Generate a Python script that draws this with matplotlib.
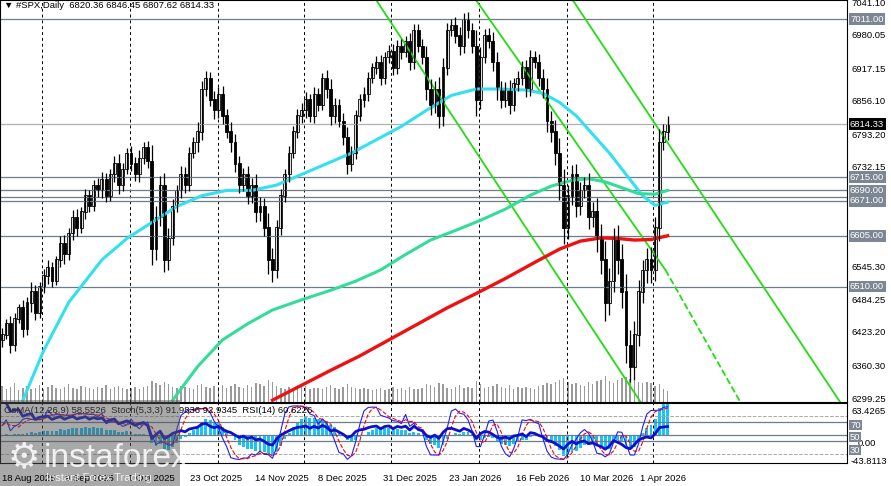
import numpy as np
import pandas as pd
import matplotlib
matplotlib.use("Agg")
import matplotlib.pyplot as plt
plt.rcParams['font.family'] = ['Liberation Sans', 'DejaVu Sans']

closes = [6420,6440,6400,6450,6470,6430,6480,6500,6460,6510,6530,6545,
          6520,6560,6590,6570,6610,6640,6620,6650,6680,6660,6700,6690,
          6710,6680,6720,6740,6700,6730,6760,6740,6720,6750,6770,6745,
          6580,6640,6700,6560,6600,6660,6690,6720,6700,6760,6780,6800,
          6880,6900,6860,6840,6870,6830,6800,6780,6740,6700,6720,6680,
          6700,6650,6660,6620,6560,6540,6620,6680,6720,6760,6800,6830,
          6840,6860,6830,6870,6850,6900,6880,6830,6850,6820,6790,6740,
          6760,6830,6860,6870,6900,6920,6930,6900,6940,6950,6920,6960,
          6950,6970,6930,6990,6960,6940,6880,6850,6880,6830,6920,6990,
          7000,6980,6960,7010,6990,6960,6860,6940,6980,6970,6930,6880,
          6860,6880,6850,6890,6900,6920,6880,6940,6930,6900,6880,6820,
          6800,6760,6700,6620,6680,6720,6660,6690,6700,6640,6650,6600,
          6560,6480,6520,6600,6560,6500,6400,6360,6420,6500,6540,6560,
          6540,6620,6780,6800,6814.33]
wicks = [25,18,30,22,15,28,20,35,26,18,24,30,22,16,28,34,20,25,31,19,27,22,18,26,
         30,24,20,28,35,22,18,26,24,30,21,27,60,40,33,45,38,26,22,30,28,24,20,35,
         30,26,22,34,28,30,25,36,32,28,24,30,26,40,35,30,55,45,30,26,22,28,20,24,
         26,30,22,28,24,20,32,36,26,24,30,38,28,22,20,26,24,18,22,26,20,24,28,22,
         26,20,30,24,22,28,40,36,30,45,38,26,22,28,34,24,30,26,60,36,24,28,32,40,
         30,26,34,22,28,24,30,26,22,30,34,40,38,45,55,60,42,36,40,32,30,44,38,50,
         55,70,48,40,52,60,66,58,50,44,40,46,48,40,50,30,32]
volumes = [30,25,28,35,22,26,30,24,27,32,25,29,31,26,24,28,33,27,25,30,28,26,24,29,
           27,31,25,28,30,26,24,27,29,25,28,30,40,35,32,38,34,29,27,30,28,26,25,31,
           33,29,27,30,28,32,26,30,34,29,27,31,28,35,33,30,42,38,30,27,25,29,24,26,
           28,30,25,27,26,24,29,31,27,25,28,33,29,26,24,27,25,22,24,26,23,25,28,24,
           26,23,28,25,24,27,34,32,29,36,33,27,25,28,31,26,29,27,40,33,26,28,30,34,
           29,27,31,25,28,26,29,27,25,30,32,35,34,38,42,45,37,33,35,31,30,38,34,40,
           42,48,40,36,41,45,47,44,40,37,35,38,36,30,34,24,20]

cyan_x = [5,10,16,24,30,36,42,48,54,60,66,72,78,84,90,96,102,108,114,120,126,130,134,138,142,146,150,154,157,160]
cyan_y = [6297,6390,6480,6560,6600,6630,6660,6680,6690,6690,6700,6720,6740,6760,6785,6810,6840,6868,6880,6880,6878,6872,6855,6830,6795,6760,6720,6680,6662,6668]
green_x = [41,47,53,59,65,72,79,85,91,97,103,109,115,121,127,132,137,141,145,149,153,157,160]
green_y = [6297,6360,6410,6440,6466,6485,6503,6520,6541,6570,6597,6615,6634,6655,6681,6698,6709,6712,6706,6695,6684,6683,6690]
red_x = [65,72,79,86,93,100,107,114,121,128,134,139,144,148,152,156,160]
red_y = [6297,6325,6353,6380,6410,6440,6470,6497,6525,6555,6580,6595,6601,6600,6597,6598,6605]

levels = [7011.00, 6715.00, 6690.00, 6678.00, 6671.00, 6605.00, 6510.00]
level_labels = ["7011.00", "6715.00", "6690.00", "", "6671.00", "6605.00", "6510.00"]
price_ticks = [7041.10, 6980.05, 6917.15, 6856.10, 6793.20, 6732.15, 6545.30, 6484.25, 6423.20, 6360.30, 6299.25]
date_labels = ["18 Aug 2025","9 Sep 2025","1 Oct 2025","23 Oct 2025","14 Nov 2025","8 Dec 2025",
               "31 Dec 2025","23 Jan 2026","16 Feb 2026","10 Mar 2026","1 Apr 2026"]
date_px = [2, 65, 128, 190, 255, 318, 383, 449, 516, 580, 640]

PX = 4.17
c = np.array(closes, float)
n = len(c)
o = np.r_[c[0] - 10, c[:-1]]
w = np.array(wicks, float)
hi = np.maximum(o, c) + w * 0.5
lo = np.minimum(o, c) - w * 0.5
x = np.arange(n)

W, H = 891, 486
fig = plt.figure(figsize=(W/100, H/100), dpi=100)
fig.patch.set_facecolor("white")
xr = 847 / PX
ax = fig.add_axes([0, 1-402/H, 847/W, 402/H])
ax2 = fig.add_axes([0, 1-463/H, 847/W, 60/H])
ymin, ymax = 6299.25 - 3*1.873, 7041.10 + 3*1.873
for a in (ax, ax2):
    a.set_xlim(-0.5, xr)
    a.set_xticks([]); a.set_yticks([])
    for s in a.spines.values():
        s.set_color("black"); s.set_linewidth(0.8)
ax.set_ylim(ymin, ymax)

gridx = [40,128,216,303,390,478,566,653]
for g in gridx:
    ax.axvline(g/PX, color="black", ls=(0,(3,3)), lw=0.7)
    ax2.axvline(g/PX, color="black", ls=(0,(3,3)), lw=0.7)

ax.bar(x, np.array(volumes)*1.0, bottom=ymin, width=0.35, color="#9a9a9a")

for lv in levels:
    ax.axhline(lv, color="#6e7b8b", lw=0.9)
ax.axhline(6814.33, color="#b0b0b0", lw=0.9)

def p2d(px, py):
    return px/PX, 7041.10 - (py-3)*1.873
for (x0,y0,x1,y1,ls) in [(375,0,640,402,"-"),(475,0,665,270,"-"),(665,270,740,402,"--"),(572,0,840,402,"-")]:
    a0 = p2d(x0,y0); a1 = p2d(x1,y1)
    ax.plot([a0[0],a1[0]],[a0[1],a1[1]], color="#22dd11", lw=1.3, ls=ls)

ax.plot(cyan_x, cyan_y, color="#33e0ee", lw=2.2)
ax.plot(green_x, green_y, color="#33dd99", lw=2.2)
ax.plot(red_x, red_y, color="#ee1111", lw=2.4)

ax.vlines(x, lo, hi, color="black", lw=0.9)
up = c >= o
ax.bar(x, np.abs(c-o)+0.8, bottom=np.minimum(o,c), width=0.7,
       color=np.where(up, "white", "black"), edgecolor="black", linewidth=0.6)

FS = 6.8
for t in price_ticks:
    fig.text(851/W, 1-(3+(7041.10-t)/1.873)/H, f"{t:.2f}", fontsize=FS, va="center", ha="left")
def ypx(v): return 3+(7041.10-v)/1.873
for lv, lab in zip(levels, level_labels):
    if lab:
        fig.text(850/W, 1-ypx(lv)/H, lab, fontsize=FS, va="center", ha="left", color="white",
                 bbox=dict(boxstyle="square,pad=0.15", fc="#7d8794", ec="none"))
fig.text(850/W, 1-ypx(6814.33)/H, "6814.33", fontsize=FS, va="center", ha="left", color="white",
         bbox=dict(boxstyle="square,pad=0.15", fc="black", ec="none"))

fig.text(4/W, 1-6/H, "▼ #SPX,Daily  6820.36 6846.45 6807.62 6814.33", fontsize=FS, va="center")

s = pd.Series(c)
d = s.diff()
g = d.clip(lower=0).ewm(alpha=1/14, adjust=False).mean()
l = (-d.clip(upper=0)).ewm(alpha=1/14, adjust=False).mean()
rsi = 100 - 100/(1+g/(l+1e-9))
hh = pd.Series(hi).rolling(5, min_periods=1).max(); ll = pd.Series(lo).rolling(5, min_periods=1).min()
k = (100*(s-ll)/(hh-ll+1e-9)).rolling(3, min_periods=1).mean()
dd = k.rolling(3, min_periods=1).mean()
macd = s.ewm(span=12).mean() - s.ewm(span=26).mean()
osma = macd - macd.ewm(span=9).mean()
ax2.set_ylim(5, 100)
ax2.bar(x, osma*1.2, bottom=50, width=0.7, color="#19c3f5")
for lv in (70, 50, 40):
    ax2.axhline(lv, color="#6e7b8b", lw=0.9)
for lv in (80, 20):
    ax2.axhline(lv, color="#aaaaaa", lw=0.7, ls="--")
ax2.plot(x, k, color="#1f1fff", lw=0.8)
ax2.plot(x, dd, color="red", lw=0.8, ls="--")
ax2.plot(x, rsi, color="#1010cc", lw=2)
ax2.text(0.005, 0.88, "OsMA(12,26,9) 58.5526  Stoch(5,3,3) 91.9836 92.9345  RSI(14) 60.6226",
         transform=ax2.transAxes, fontsize=FS, va="center")
fig.text(851/W, 1-411/H, "63.4265", fontsize=FS, va="center")
fig.text(858/W, 1-443/H, "0.00", fontsize=FS, va="center")
fig.text(851/W, 1-461/H, "-43.8113", fontsize=FS, va="center")
for lv, yy in ((70,425),(50,437),(30,450)):
    fig.text(850/W, 1-yy/H, str(lv), fontsize=FS, va="center", color="white",
             bbox=dict(boxstyle="square,pad=0.1", fc="#7d8794", ec="none"))

for lab, px in zip(date_labels, date_px):
    fig.text(px/W, 1-478/H, lab, fontsize=FS, va="center")

fig.patches.append(plt.Rectangle((0, 0), 180/W, 86/H, transform=fig.transFigure,
                                 fc="#555555", alpha=0.5, ec="none"))
fig.text(8/W, 1-458/H, "⚙", fontsize=26, color="white", alpha=0.85, va="center")
fig.text(44/W, 1-458/H, "instaforex", fontsize=24, color="white", alpha=0.85, va="center")
fig.text(46/W, 1-478/H, "Instant Forex Trading", fontsize=8, color="white", alpha=0.85, va="center")

fig.savefig("out.png", dpi=100)
